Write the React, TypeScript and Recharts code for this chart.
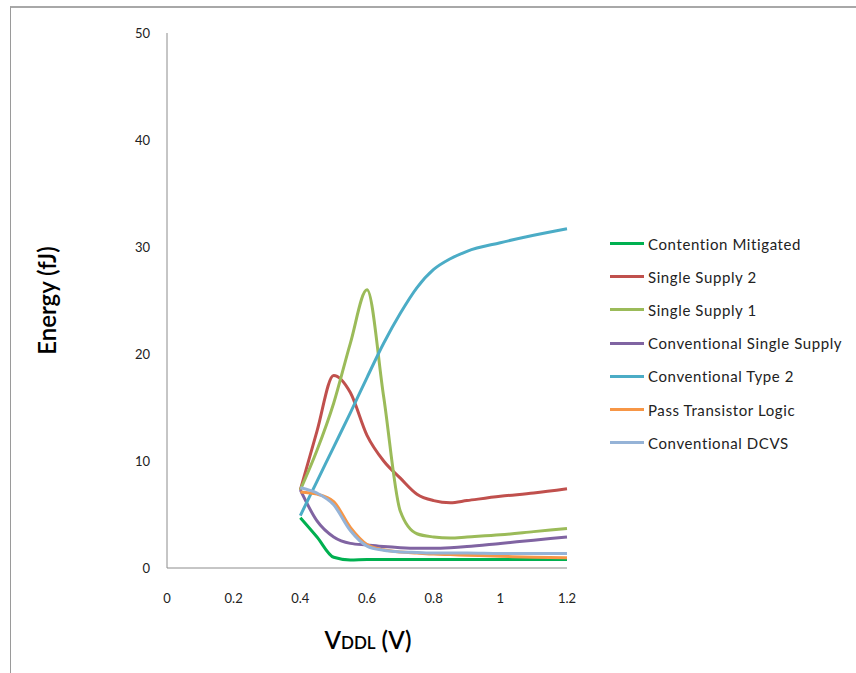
import { LineChart, Line, XAxis, YAxis, Label } from 'recharts'

const FONT = 'Lato, "Open Sans", sans-serif'

// supply voltage (V)
const vddl = [0.4, 0.45, 0.5, 0.55, 0.6, 0.65, 0.7, 0.75, 0.8, 0.85, 0.9, 1.0, 1.1, 1.2]

// energy (fJ) per topology
const contentionMitigated = [4.7, 2.9, 1.0, 0.75, 0.8, 0.8, 0.8, 0.8, 0.8, 0.8, 0.8, 0.8, 0.8, 0.8]
const singleSupply2 = [7.3, 12.8, 18.0, 16.4, 12.4, 10.0, 8.4, 6.9, 6.3, 6.1, 6.3, 6.7, 7.0, 7.4]
const singleSupply1 = [7.3, 11.0, 15.4, 21.0, 26.0, 16.0, 5.3, 3.2, 2.9, 2.8, 2.9, 3.1, 3.4, 3.7]
const convSingleSupply = [7.3, 4.4, 2.9, 2.3, 2.15, 2.0, 1.9, 1.85, 1.85, 1.9, 2.0, 2.3, 2.6, 2.9]
const convType2 = [4.9, 8.1, 11.3, 14.5, 17.8, 21.0, 23.8, 26.2, 27.9, 28.9, 29.6, 30.4, 31.1, 31.7]
const passTransistor = [7.1, 6.9, 6.2, 3.8, 2.2, 1.7, 1.5, 1.4, 1.3, 1.25, 1.2, 1.1, 1.0, 0.95]
const convDcvs = [7.5, 7.0, 5.9, 3.5, 2.05, 1.65, 1.5, 1.45, 1.4, 1.4, 1.4, 1.35, 1.35, 1.35]

const xTicks = [0, 0.2, 0.4, 0.6, 0.8, 1, 1.2]
const yTicks = [0, 10, 20, 30, 40, 50]

const SERIES = [
  { key: 'cm', name: 'Contention Mitigated', values: contentionMitigated, colour: '#00b050' },
  { key: 'ss2', name: 'Single Supply 2', values: singleSupply2, colour: '#c0504d' },
  { key: 'ss1', name: 'Single Supply 1', values: singleSupply1, colour: '#9bbb59' },
  { key: 'css', name: 'Conventional Single Supply', values: convSingleSupply, colour: '#8064a2' },
  { key: 'ct2', name: 'Conventional Type 2', values: convType2, colour: '#4bacc6' },
  { key: 'ptl', name: 'Pass Transistor Logic', values: passTransistor, colour: '#f79646' },
  { key: 'dcvs', name: 'Conventional DCVS', values: convDcvs, colour: '#95b3d7' },
]

const data = vddl.map((v, i) => {
  const row: Record<string, number> = { v }
  SERIES.forEach(s => { row[s.key] = s.values[i] })
  return row
})

function XTitle({ viewBox }: any) {
  const cx = viewBox.x + viewBox.width / 2 + 1
  return (
    <text x={cx} y={649} textAnchor="middle" fontFamily={FONT} fontWeight={600} fill="#000">
      <tspan fontSize={24}>V</tspan>
      <tspan fontSize={17}>DDL</tspan>
      <tspan fontSize={24}> (V)</tspan>
    </text>
  )
}

export default function App() {
  return (
    <div style={{ position: 'absolute', left: 0, top: 0, width: 856, height: 673, background: '#fff', overflow: 'hidden' }}>
      <div style={{
        position: 'absolute', left: 10, top: 6, right: 0, bottom: 0,
        borderLeft: '1px solid #9a9a9a', borderTop: '2px solid #a8a8a8',
      }} />
      <LineChart
        width={856}
        height={673}
        data={data}
        margin={{ top: 33, right: 289, bottom: 0, left: 0 }}
        style={{ position: 'absolute', left: 0, top: 0 }}
      >
        <XAxis
          dataKey="v"
          type="number"
          domain={[0, 1.2]}
          ticks={xTicks}
          tickLine={false}
          tickSize={0}
          tickMargin={26}
          height={105}
          axisLine={{ stroke: '#8c8c8c', strokeWidth: 1 }}
          tick={{ fontSize: 13, fill: '#222', fontFamily: FONT }}
        >
          <Label content={<XTitle />} />
        </XAxis>
        <YAxis
          type="number"
          domain={[0, 50]}
          ticks={yTicks}
          tickLine={false}
          tickSize={0}
          tickMargin={17}
          width={167}
          axisLine={{ stroke: '#8c8c8c', strokeWidth: 1 }}
          tick={{ fontSize: 13, fill: '#222', fontFamily: FONT }}
        >
          <Label
            value="Energy (fJ)"
            angle={-90}
            position="insideLeft"
            offset={47}
            style={{ fontSize: 24, fontWeight: 600, fill: '#000', fontFamily: FONT, textAnchor: 'middle' }}
          />
        </YAxis>
        {SERIES.map(s => (
          <Line
            key={s.key}
            dataKey={s.key}
            name={s.name}
            type="monotone"
            stroke={s.colour}
            strokeWidth={3}
            dot={false}
            isAnimationActive={false}
          />
        ))}
      </LineChart>
      <div style={{ position: 'absolute', left: 610, top: 227, fontFamily: FONT, fontSize: 15, letterSpacing: 0.6, color: '#222' }}>
        {SERIES.map(s => (
          <div key={s.key} style={{ display: 'flex', alignItems: 'center', height: 33.2 }}>
            <span style={{ display: 'inline-block', width: 34, height: 3, background: s.colour, marginRight: 4 }} />
            <span style={{ lineHeight: '22px' }}>{s.name}</span>
          </div>
        ))}
      </div>
    </div>
  )
}
